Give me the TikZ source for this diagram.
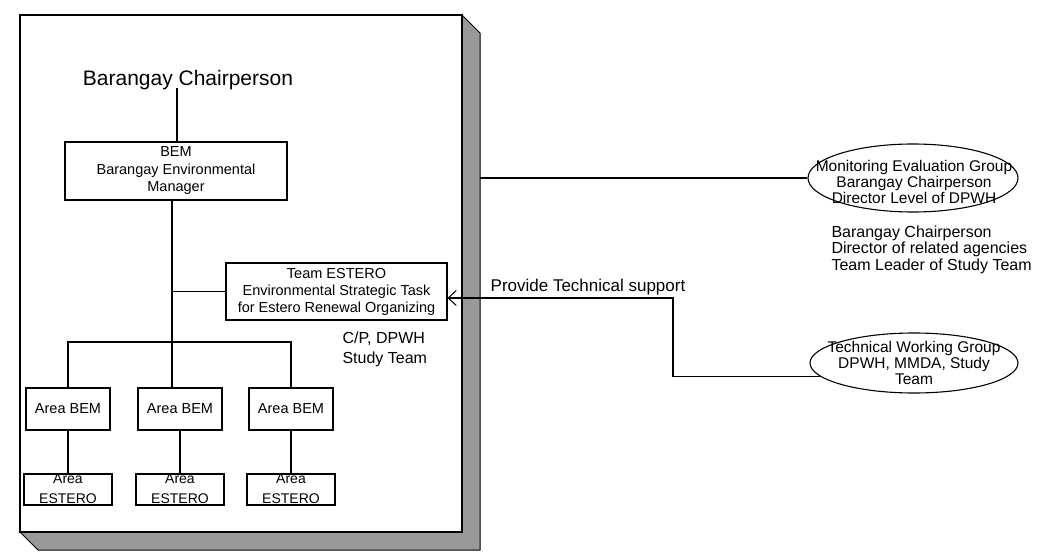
\documentclass[tikz,border=0pt]{standalone}
\usepackage{fontspec}
\setmainfont{Liberation Sans}
\usetikzlibrary{shapes.geometric,arrows.meta}
\begin{document}
\begin{tikzpicture}[x=1pt,y=-1pt,line width=1.1pt,
  box/.style={draw, inner sep=0pt, align=center},
  txt/.style={inner sep=0pt, align=center},
  fs/.style={font=\fontsize{14.5}{17.5}\selectfont},
  oval/.style={draw, ellipse, inner sep=0pt},
  conn/.style={line width=1.1pt},
  barb/.style={{Straight Barb[length=8pt,width=15pt,line width=1pt]}-}]
\useasboundingbox (0,0) rectangle (1039,556);
% panel with shadow
\filldraw[fill=black!40, draw=black, line width=1pt]
  (462,15) -- (480,33) -- (480,550) -- (38,550) -- (20,532) -- (462,532) -- cycle;
\draw[line width=1.2pt] (20,15) rectangle (462,532);

% nodes
\node[txt, font=\fontsize{21}{24}\selectfont] (chair) at (188,80) {Barangay Chairperson};
\node[box, fs, minimum width=222pt, minimum height=58pt] (bem) at (176,171)
  {BEM\\Barangay Environmental\\Manager};
\node[box, font=\fontsize{14.5}{17}\selectfont, minimum width=221pt, minimum height=57pt] (team) at (336.5,291.5)
  {Team ESTERO\\Environmental Strategic Task\\for Estero Renewal Organizing};
\node[txt, align=left, anchor=west, font=\fontsize{16}{20}\selectfont] (cp) at (342,349) {C/P, DPWH\\Study Team};

\foreach \i/\x in {1/68,2/180,3/291}{
  \node[box, fs, minimum width=84pt, minimum height=42pt] (abem\i) at (\x,409) {Area BEM};
  \node[box, minimum width=88pt, minimum height=31pt] (aest\i) at (\x,489.5) {};
  \node[txt, font=\fontsize{14}{20}\selectfont] (aestt\i) at (\x,488.5) {Area\\ESTERO};
}

\node[oval, minimum width=210pt, minimum height=68pt] (mon) at (913,178) {};
\node[txt, font=\fontsize{15.5}{16}\selectfont] (mont) at (914,182)
  {Monitoring Evaluation Group\\Barangay Chairperson\\Director Level of DPWH};
\node[txt, align=left, anchor=west, font=\fontsize{16}{16.5}\selectfont] (members) at (831,249.5)
  {Barangay Chairperson\\Director of related agencies\\Team Leader of Study Team};

\node[oval, minimum width=208pt, minimum height=60pt] (twg) at (914,363) {};
\node[txt, font=\fontsize{15.5}{16}\selectfont] (twgt) at (914,363)
  {Technical Working Group\\DPWH, MMDA, Study\\Team};

\node[txt, font=\fontsize{17}{20}\selectfont] (prov) at (588,287) {Provide Technical support};

% connectors
\coordinate (c1) at (177,88);
\coordinate (j1) at (172,291.5);
\coordinate (j2) at (172,342);
\coordinate (sh) at (480,178);
\coordinate (bend) at (673,298);
\draw[conn] (c1) -- (c1 |- bem.north);
\draw[conn] (j1 |- bem.south) -- (j1 |- abem2.north);
\draw[conn] (j1) -- (team.west);
\draw[conn] (abem1.north) |- (j2) -| (abem3.north);
\foreach \i in {1,2,3}{
  \draw[conn] (abem\i.south) -- (aest\i.north);
}
\draw[conn] (sh) -- (mon.west);
\draw[conn, barb] (team.east |- bend) -- (bend) |- (twg.188);
\end{tikzpicture}
\end{document}
